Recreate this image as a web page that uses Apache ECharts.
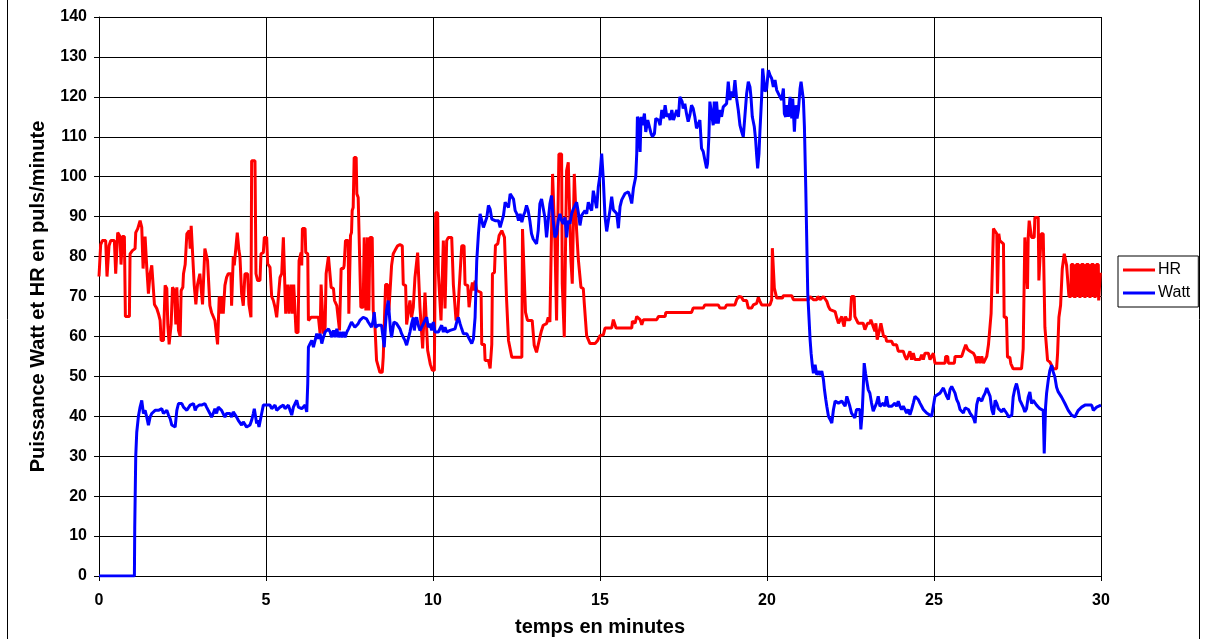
<!DOCTYPE html>
<html>
<head>
<meta charset="utf-8">
<script src="https://cdn.jsdelivr.net/npm/echarts@6/dist/echarts.min.js"></script>
<style>
  html, body { margin: 0; padding: 0; background: #fff; }
  #chart { width: 1207px; height: 639px; }
</style>
</head>
<body>
<div id="chart"></div>
<script>
// [minutes, puls/minute]
const hrData = [
  [0,75],[0.03,75.2],[0.05,83],[0.1,84],[0.2,84],[0.24,75],[0.3,82.7],[0.35,84],[0.46,84],[0.5,75.7],
  [0.56,86],[0.63,85],[0.66,78],[0.7,85],[0.76,85],[0.79,65],[0.91,65],[0.93,80.7],[1.0,81.5],[1.08,82],
  [1.1,86],[1.16,87],[1.23,89],[1.28,87.3],[1.32,77],[1.38,85],[1.43,77.3],[1.48,70.7],[1.53,75.7],[1.58,77.8],
  [1.63,78],[1.66,68],[1.73,67],[1.78,65.7],[1.83,64],[1.86,59],[1.93,59],[1.98,72.8],[2.03,72],[2.06,63],
  [2.1,58],[2.16,63],[2.2,72.3],[2.26,71.5],[2.3,63],[2.33,72.3],[2.38,61.5],[2.43,60],[2.46,71.5],[2.51,72.3],
  [2.53,75.7],[2.58,78],[2.63,85.7],[2.7,86.5],[2.73,82],[2.76,87.7],[2.81,87.7],[2.85,73],[2.9,68],[2.95,73],
  [3.02,75.7],[3.07,76],[3.1,68],[3.15,68],[3.17,82],[3.22,82],[3.25,79],[3.29,78.6],[3.32,67.7],[3.37,66],
  [3.42,65.7],[3.47,64],[3.52,63.6],[3.55,58],[3.59,57.7],[3.6,70],[3.65,65.7],[3.69,70],[3.72,65.7],[3.77,72.8],
  [3.82,74.8],[3.87,75.7],[3.95,75.7],[3.97,67.7],[4.02,80],[4.05,77.8],[4.09,81.5],[4.14,86],[4.17,86],[4.19,81.5],
  [4.22,80],[4.27,70.7],[4.32,67.7],[4.37,75.7],[4.45,75.7],[4.49,68],[4.55,64.8],[4.57,104],[4.67,104],[4.7,75.7],
  [4.75,74],[4.82,74],[4.85,80.7],[4.92,81],[4.95,84.8],[5.02,84.8],[5.05,78.2],[5.12,77.3],[5.17,70],[5.22,69],
  [5.27,67.3],[5.32,64.8],[5.37,64.8],[5.42,74.8],[5.47,75.7],[5.52,84.8],[5.55,84.8],[5.59,65.7],[5.65,73],[5.69,65.7],
  [5.75,73],[5.79,65.7],[5.83,73],[5.87,73],[5.9,61],[5.96,61],[5.99,79],[6.05,81],[6.07,77.8],[6.09,87],
  [6.17,87],[6.19,81],[6.25,80.7],[6.27,64],[6.32,64],[6.35,64.8],[6.57,64.8],[6.62,60.7],[6.65,73],[6.69,73],
  [6.72,60.7],[6.77,62.3],[6.8,75.7],[6.85,76],[6.87,80],[6.92,80],[6.95,72.3],[7.02,72],[7.05,69],[7.12,67.7],
  [7.15,67.3],[7.2,61.5],[7.22,61.5],[7.25,77],[7.32,77],[7.34,77.8],[7.38,84],[7.46,84],[7.48,65.7],[7.51,65.7],
  [7.53,85.3],[7.56,86],[7.58,91.5],[7.61,92.3],[7.64,104.8],[7.7,104.8],[7.72,95.7],[7.76,94.8],[7.81,94.8],[7.84,67.3],
  [7.91,67.3],[7.94,84.8],[7.99,66.5],[8.04,84.8],[8.08,66.5],[8.11,84.8],[8.18,84.8],[8.21,66.5],[8.26,63],[8.31,54],
  [8.36,54],[8.41,51],[8.48,51],[8.51,54.8],[8.54,54.8],[8.58,73],[8.64,73],[8.68,66.5],[8.71,66.5],[8.76,77.8],
  [8.81,80.7],[8.86,81.5],[8.94,82.7],[9.01,83],[9.08,82.7],[9.11,73],[9.18,72.8],[9.21,63],[9.26,63],[9.31,69],
  [9.34,69],[9.36,64.8],[9.41,67.3],[9.46,74.8],[9.51,75.2],[9.54,81],[9.59,81],[9.61,67.3],[9.66,67],[9.69,57],
  [9.74,57],[9.76,71],[9.81,71],[9.84,56.5],[9.89,56.5],[9.92,53],[9.98,51.5],[10.04,51.5],[10.08,91],[10.14,91],
  [10.16,76],[10.21,76],[10.24,64],[10.28,64],[10.31,84],[10.34,84],[10.36,67],[10.39,67],[10.41,84],[10.46,84.8],
  [10.56,84.8],[10.61,73],[10.66,72.8],[10.69,64],[10.74,64.8],[10.78,71.5],[10.82,71.5],[10.86,82.7],[10.93,82.7],[10.96,73],
  [11.04,72.8],[11.08,67.3],[11.14,71.5],[11.18,73.5],[11.23,71.5],[11.26,74],[11.31,71.5],[11.36,71],[11.44,71],[11.46,58],
  [11.54,58],[11.56,54],[11.66,54],[11.71,52],[11.76,58],[11.78,75.7],[11.84,76],[11.87,82.8],[11.94,83.2],[11.98,85.3],
  [12.06,86.5],[12.14,84.8],[12.18,84.8],[12.2,69.8],[12.25,69.8],[12.26,59],[12.31,58.6],[12.36,54.8],[12.66,54.8],[12.68,86.9],
  [12.73,86.9],[12.77,66],[12.83,64],[12.97,64],[13.03,57.8],[13.1,56],[13.15,56.5],[13.2,59.8],[13.25,61.5],[13.3,62.8],
  [13.4,63.2],[13.45,64.8],[13.5,63.6],[13.55,63.2],[13.58,100.7],[13.62,100.7],[13.65,84],[13.7,64],[13.73,84.8],[13.77,105.7],
  [13.85,105.7],[13.87,73.2],[13.9,73.2],[13.93,59.8],[13.97,59.8],[14.0,101.5],[14.05,103.6],[14.1,103.6],[14.13,79],[14.17,73.2],
  [14.2,73.2],[14.23,100.7],[14.27,100.7],[14.3,86.5],[14.35,79.4],[14.4,79],[14.43,72.3],[14.5,72],[14.53,68.2],[14.57,67.8],
  [14.6,60.2],[14.65,59.8],[14.7,58.2],[14.85,58.2],[14.93,59],[15.0,60.2],[15.1,60.4],[15.15,62.1],[15.35,62.1],[15.4,64.2],
  [15.45,64.2],[15.48,62.1],[15.95,62.1],[15.97,63.8],[16.05,63.3],[16.1,65],[16.15,64.6],[16.2,64.2],[16.25,62.9],[16.3,64.2],
  [16.7,64.2],[16.75,65],[16.95,65],[16.97,66],[17.74,66],[17.79,67.1],[18.09,67.1],[18.14,67.9],[18.54,67.9],[18.59,67.1],
  [18.74,67.1],[18.79,67.9],[19.04,67.9],[19.09,69.2],[19.16,70],[19.24,69.8],[19.29,69],[19.39,69],[19.44,67.1],[19.54,67.1],
  [19.59,67.9],[19.69,68.3],[19.74,69.8],[19.79,68.8],[19.84,67.9],[20.09,67.9],[20.14,69.2],[20.16,82.1],[20.2,82.1],[20.22,72.1],
  [20.26,71.7],[20.29,69.6],[20.46,69.6],[20.49,70.2],[20.74,70.2],[20.79,69.2],[21.24,69.2],[21.29,70],[21.39,69.2],[21.49,69.2],
  [21.52,70],[21.59,69.2],[21.64,69.2],[21.69,70],[21.74,70],[21.79,68.8],[21.84,67.5],[21.89,66.7],[21.94,66.2],[22.04,66.2],
  [22.09,64.6],[22.14,63.3],[22.19,62.9],[22.24,65],[22.28,63.3],[22.31,62.5],[22.35,65],[22.39,64.2],[22.49,64.2],[22.53,70],
  [22.61,70],[22.63,65],[22.68,64.6],[22.73,63.3],[22.88,63.3],[22.93,61.7],[22.98,61.7],[23.01,63.3],[23.08,63.3],[23.11,64.2],
  [23.15,63.8],[23.18,62.5],[23.23,61.3],[23.26,63.3],[23.3,59.2],[23.33,59.2],[23.36,61.3],[23.41,63.3],[23.46,63.3],[23.49,60],
  [23.55,60],[23.58,58.8],[23.73,58.8],[23.78,57.9],[23.88,57.9],[23.93,56.3],[24.08,56.3],[24.13,55],[24.18,54.2],[24.23,54.2],
  [24.28,56.3],[24.33,54.2],[24.38,55.8],[24.43,54.2],[24.58,54.2],[24.63,55.4],[24.68,54.2],[24.73,55.8],[24.83,55.8],[24.88,54.2],
  [24.98,55.8],[25.03,53.3],[25.33,53.3],[25.35,55],[25.41,55],[25.43,53.3],[25.61,53.3],[25.63,55],[25.83,55],[25.88,56.3],
  [25.95,57.9],[26.01,56.7],[26.08,56.3],[26.18,55.8],[26.23,55],[26.28,53.3],[26.33,55],[26.38,53.3],[26.43,55],[26.48,53.3],
  [26.53,53.3],[26.58,55],[26.63,57.9],[26.68,57.9],[26.71,65.8],[26.75,66.3],[26.78,87],[26.83,86.5],[26.88,85.7],[26.9,70.7],
  [26.94,85.7],[26.97,84],[27.02,83.6],[27.08,83.2],[27.1,64.8],[27.17,64.8],[27.2,54.8],[27.27,54.8],[27.3,53.2],[27.37,51.9],
  [27.62,51.9],[27.67,56.9],[27.7,56.9],[27.72,84.8],[27.77,84.8],[27.8,71.9],[27.82,84.8],[27.85,89],[27.89,89],[27.92,84.8],
  [28.0,84.8],[28.02,89.8],[28.12,89.8],[28.14,74],[28.19,74],[28.21,85.7],[28.27,85.7],[28.32,62.3],[28.37,61.9],[28.4,54],
  [28.47,53.6],[28.52,53.2],[28.57,51.9],[28.67,51.9],[28.7,55.7],[28.74,64.8],[28.79,67.8],[28.82,67.8],[28.84,76.9],[28.88,76.9],
  [28.9,80.7],[28.95,80.7],[28.97,77.8],[29.02,77.3],[29.04,70],[29.1,70],[29.11,78],[29.17,78],[29.18,70],[29.25,70],
  [29.26,78],[29.33,78],[29.34,70],[29.4,70],[29.41,78],[29.48,78],[29.49,70],[29.55,70],[29.56,78],[29.63,78],
  [29.64,70],[29.7,70],[29.71,78],[29.78,78],[29.79,70],[29.85,70],[29.86,78],[29.92,78],[29.93,69],[29.97,69],
  [29.98,76],[30,76]
];

// [minutes, watt]
const wattData = [
  [0,0],[1.06,0],[1.07,12],[1.1,30],[1.13,36],[1.18,40],[1.23,42.3],[1.28,44],[1.33,40.7],[1.38,41.5],
  [1.43,39.8],[1.48,37.8],[1.53,39.8],[1.58,40.7],[1.63,40.3],[1.68,41.5],[1.73,41.9],[1.78,41.5],[1.83,41.5],[1.88,41.9],
  [1.93,40.7],[1.98,40.7],[2.03,41.5],[2.08,40.3],[2.13,39.4],[2.18,37.8],[2.23,37.3],[2.28,37.3],[2.33,41.5],[2.38,43.2],
  [2.43,42.8],[2.48,43.2],[2.53,42.3],[2.58,42.8],[2.63,41.5],[2.68,41.9],[2.73,42.8],[2.78,42.3],[2.83,43.2],[2.88,41.5],
  [2.92,42.3],[3.0,42.8],[3.07,42.8],[3.17,43.2],[3.22,42.3],[3.27,42.8],[3.32,40.7],[3.37,39.8],[3.42,40.7],[3.47,41.9],
  [3.52,40.7],[3.57,42.3],[3.62,42.8],[3.67,41.5],[3.72,41.1],[3.77,39.8],[3.82,40.7],[3.87,41.1],[3.92,40.7],[3.97,39.8],
  [4.02,41.1],[4.07,40.7],[4.12,39.8],[4.17,39],[4.22,38.6],[4.27,37.8],[4.32,38.6],[4.37,38.2],[4.42,37.3],[4.47,37.3],
  [4.52,37.8],[4.57,39],[4.62,40.7],[4.65,41.9],[4.69,39.8],[4.72,38.2],[4.75,39],[4.79,37.3],[4.83,37.3],[4.87,40.7],
  [4.92,42.8],[4.97,42.3],[5.02,42.8],[5.07,42.3],[5.12,42.8],[5.17,41.9],[5.22,42.3],[5.27,42.8],[5.32,41.5],[5.37,41.1],
  [5.42,42.3],[5.47,41.9],[5.52,42.8],[5.57,41.9],[5.62,42.3],[5.67,42.8],[5.72,41.5],[5.77,40.3],[5.82,42.3],[5.87,43.2],
  [5.92,44],[5.97,42.3],[6.02,42.3],[6.07,41.9],[6.12,41.9],[6.17,42.8],[6.22,41.1],[6.25,48.2],[6.27,57.3],[6.32,58.2],
  [6.37,59],[6.42,57.3],[6.47,59],[6.52,60.7],[6.57,59.4],[6.62,60.7],[6.67,58.2],[6.72,59.8],[6.77,61.1],[6.82,61.5],
  [6.87,61.9],[6.92,61.1],[6.97,59.8],[7.02,61.5],[7.07,59.8],[7.12,61.9],[7.17,59.8],[7.22,61.1],[7.27,59.8],[7.32,61.1],
  [7.37,59.8],[7.42,61.1],[7.47,61.9],[7.51,62.3],[7.56,63.6],[7.61,64],[7.66,62.3],[7.71,62.8],[7.76,63.2],[7.81,64],
  [7.86,63.6],[7.91,64.8],[7.96,64.8],[8.01,64.4],[8.06,63.6],[8.11,63.2],[8.16,62.3],[8.21,64],[8.24,66.1],[8.28,62.3],
  [8.31,61.9],[8.36,62.8],[8.41,63.2],[8.46,62.8],[8.49,60.7],[8.54,57.3],[8.58,63.2],[8.61,66.5],[8.66,69],[8.69,65.7],
  [8.73,61.5],[8.76,59.8],[8.79,61.5],[8.83,63.6],[8.86,64],[8.91,63.2],[8.96,62.8],[9.01,61.9],[9.06,60.7],[9.11,59.8],
  [9.16,59],[9.21,57.8],[9.26,58.2],[9.31,61.1],[9.36,63.2],[9.41,64.8],[9.44,61.5],[9.48,64],[9.51,64.8],[9.56,62.8],
  [9.61,61.5],[9.66,62.3],[9.71,62.8],[9.76,64],[9.81,64.8],[9.86,62.3],[9.91,63.2],[9.96,61.5],[10.01,63.6],[10.06,61.1],
  [10.11,61.5],[10.16,61.1],[10.21,61.5],[10.26,62.8],[10.31,61.1],[10.36,62.3],[10.41,61.1],[10.46,61.5],[10.51,61.5],[10.56,61.9],
  [10.66,61.9],[10.71,63.6],[10.76,64.8],[10.81,63.2],[10.86,61.9],[10.91,60.7],[10.96,61.1],[11.01,60.7],[11.06,59.8],[11.11,59.4],
  [11.16,58.2],[11.21,59.4],[11.26,64.8],[11.31,79],[11.36,85.7],[11.41,90.7],[11.46,90.3],[11.51,87.3],[11.56,86.9],[11.61,89.8],
  [11.66,92.8],[11.71,91.9],[11.76,89.4],[11.81,89],[11.86,89],[11.91,89.4],[11.96,89],[12.01,87.3],[12.06,86.9],[12.11,90.3],
  [12.16,93.6],[12.21,94],[12.26,92.3],[12.31,95.7],[12.36,95.3],[12.41,94.4],[12.46,91.5],[12.51,90.7],[12.56,89],[12.61,90.7],
  [12.66,88.6],[12.71,90.3],[12.75,91.1],[12.8,92.8],[12.85,91.5],[12.9,89],[12.95,85.7],[13.0,84.4],[13.05,84],[13.1,83.2],
  [13.15,86.5],[13.2,93.2],[13.25,94.4],[13.3,94.8],[13.35,89.8],[13.4,84.8],[13.45,89],[13.5,93.2],[13.55,95.3],[13.6,89],
  [13.65,84.8],[13.7,85.7],[13.75,89],[13.8,90.7],[13.85,89],[13.9,88.2],[13.95,89.8],[14.0,84.8],[14.05,89],[14.1,88.2],
  [14.15,90.7],[14.2,91.9],[14.25,91.5],[14.3,93.6],[14.35,91.1],[14.4,87.8],[14.45,90.3],[14.5,90.7],[14.55,91.5],[14.6,90.7],
  [14.65,93.6],[14.7,92.3],[14.75,91.5],[14.8,96.5],[14.85,97],[14.9,92.1],[14.95,97.5],[15.0,100.4],[15.05,105.8],[15.1,99.2],
  [15.15,90],[15.2,86.3],[15.25,86.7],[15.3,91.7],[15.35,95],[15.4,91.7],[15.45,92.1],[15.5,90.8],[15.55,87.1],[15.6,92.5],
  [15.65,94.2],[15.7,95],[15.75,95.8],[15.85,96.2],[15.9,95],[15.95,93.3],[16.0,97.1],[16.05,97.5],[16.07,100],[16.1,105.8],
  [16.12,115],[16.15,114.2],[16.2,106.2],[16.23,115],[16.27,112.9],[16.33,115.8],[16.37,111.2],[16.43,114.2],[16.47,113.8],[16.53,110.8],
  [16.57,110],[16.63,110.8],[16.67,114.6],[16.75,114.2],[16.8,112.9],[16.85,116.7],[16.9,114.6],[16.95,117.9],[17.0,115],[17.05,115.8],
  [17.1,114.2],[17.15,116.7],[17.2,114.2],[17.25,113.8],[17.3,116.7],[17.35,115],[17.39,120],[17.46,118.8],[17.49,117.1],[17.54,118.3],
  [17.59,115.8],[17.64,113.8],[17.69,115.4],[17.74,117.9],[17.79,117.1],[17.84,115],[17.89,112.1],[17.94,112.1],[17.99,114.2],[18.04,107.1],
  [18.09,106.3],[18.14,104.2],[18.19,102.1],[18.22,103.3],[18.26,110],[18.29,118.8],[18.34,115.8],[18.39,112.9],[18.42,118.8],[18.46,113.3],
  [18.49,118.8],[18.54,113.3],[18.59,116.7],[18.64,115],[18.69,117.5],[18.74,117.1],[18.79,118.3],[18.84,123.8],[18.89,119.2],[18.94,121.3],
  [18.99,120],[19.04,124.2],[19.09,119.6],[19.14,116.7],[19.19,112.9],[19.24,111.3],[19.29,110],[19.34,110.4],[19.39,120.8],[19.44,123.8],
  [19.49,122.5],[19.52,120],[19.56,115],[19.62,112.5],[19.66,109.2],[19.69,105.4],[19.72,102.1],[19.76,105.8],[19.79,111.7],[19.84,120],
  [19.87,127.1],[19.92,127.1],[19.94,121.3],[19.99,122.1],[20.04,126.7],[20.09,125.4],[20.14,124.6],[20.19,122.5],[20.24,124.2],[20.29,121.7],
  [20.34,122.1],[20.39,120],[20.44,119.2],[20.49,122.1],[20.52,115.8],[20.56,115],[20.6,117.9],[20.64,115],[20.69,120],[20.74,114.6],
  [20.77,119.6],[20.82,111.3],[20.86,117.9],[20.9,114.6],[20.94,116.7],[20.99,122.1],[21.02,123.8],[21.06,123.8],[21.09,119.2],[21.12,112.5],
  [21.16,97.5],[21.19,84.2],[21.22,70.8],[21.26,64.2],[21.29,59.2],[21.32,55.8],[21.36,52.5],[21.39,50.8],[21.44,52.9],[21.49,50.4],
  [21.54,51.3],[21.59,50.4],[21.64,51.3],[21.69,49.2],[21.72,46.7],[21.76,44.2],[21.79,42.5],[21.84,40],[21.89,39.2],[21.94,38.3],
  [21.99,41.7],[22.04,43.8],[22.09,43.8],[22.14,43.3],[22.24,43.8],[22.29,43.8],[22.34,42.5],[22.39,45],[22.43,44.6],[22.48,42.5],
  [22.53,40.8],[22.58,40.4],[22.63,39.6],[22.68,41.7],[22.73,42.1],[22.78,41.7],[22.81,36.7],[22.85,40.8],[22.88,46.7],[22.91,53.3],
  [22.95,50.8],[22.98,49.2],[23.03,46.7],[23.08,45.8],[23.13,43.3],[23.18,41.3],[23.23,41.3],[23.28,43.3],[23.33,45],[23.38,42.5],
  [23.43,42.5],[23.48,43.3],[23.53,42.5],[23.58,45],[23.63,42.5],[23.68,42.1],[23.73,42.5],[23.78,42.1],[23.83,43.3],[23.88,42.5],
  [23.93,43.8],[23.98,42.5],[24.03,41.7],[24.08,42.5],[24.13,41.7],[24.18,40.8],[24.23,41.7],[24.28,40.4],[24.33,41.7],[24.38,43.3],
  [24.43,45],[24.48,45],[24.53,44.2],[24.58,43.3],[24.63,42.5],[24.68,41.7],[24.73,41.3],[24.78,40.8],[24.83,40.4],[24.93,40],
  [24.98,40],[25.03,45],[25.08,45.4],[25.18,45.8],[25.23,45.8],[25.28,47.1],[25.33,46.7],[25.38,45],[25.43,44.2],[25.48,46.7],
  [25.53,47.5],[25.58,47.9],[25.63,45.8],[25.68,44.2],[25.73,43.3],[25.78,41.7],[25.83,42.1],[25.88,40.8],[25.93,42.1],[25.98,41.7],
  [26.03,41.7],[26.08,40.8],[26.13,40.4],[26.18,39.6],[26.23,38.3],[26.28,42.9],[26.33,44.6],[26.38,45],[26.43,43.8],[26.48,45],
  [26.53,45.8],[26.58,47.1],[26.63,46.7],[26.68,45],[26.73,41.7],[26.78,40.4],[26.83,44],[26.88,43.2],[26.93,41.9],[26.98,42.3],
  [27.03,41.1],[27.08,41.9],[27.13,41.5],[27.18,40.7],[27.23,39.8],[27.28,39.8],[27.33,40.3],[27.37,44.8],[27.42,46.9],[27.47,48.2],
  [27.52,46.5],[27.57,44],[27.62,43.2],[27.67,42.3],[27.72,41.1],[27.77,41.9],[27.82,44.8],[27.87,46.1],[27.92,43.2],[27.97,44],
  [28.02,43.6],[28.07,42.8],[28.12,43.2],[28.17,41.9],[28.22,42.3],[28.27,41.5],[28.3,30.7],[28.34,42.3],[28.37,45.7],[28.42,49],
  [28.47,51.5],[28.52,52.8],[28.57,51.1],[28.62,49.8],[28.67,47.3],[28.72,46.1],[28.77,45.7],[28.82,44.8],[28.87,44.4],[28.92,43.2],
  [28.97,42.8],[29.02,41.5],[29.07,41.1],[29.12,40.3],[29.17,39.8],[29.22,39.8],[29.27,40.7],[29.32,41.5],[29.37,41.9],[29.42,42.3],
  [29.47,42.8],[29.52,42.8],[29.62,42.8],[29.67,43.2],[29.72,42.8],[29.77,41.5],[29.82,41.1],[29.87,42.3],[29.92,41.9],[30,42.8]
];

const FONT = "'Liberation Sans', Arial, sans-serif";

const chart = echarts.init(document.getElementById('chart'));
const option = {
  animation: false,
  backgroundColor: '#fff',
  textStyle: { fontFamily: FONT },
  grid: { left: 99, right: 106, top: 17, bottom: 63, outerBoundsMode: 'none' },
  legend: {
    orient: 'vertical',
    left: 1118,
    top: 256,
    data: ['HR', 'Watt'],
    icon: 'rect',
    itemWidth: 32,
    itemHeight: 3,
    itemGap: 7,
    padding: [6, 8, 6, 5],
    borderColor: '#000',
    borderWidth: 1,
    textStyle: { fontFamily: FONT, fontSize: 16, color: '#000', padding: [0, 0, 0, -2] }
  },
  xAxis: {
    type: 'value',
    min: 0,
    max: 30,
    interval: 5,
    name: 'temps en minutes',
    nameLocation: 'middle',
    nameGap: 41,
    nameTextStyle: { fontFamily: FONT, fontSize: 20, fontWeight: 'bold', color: '#000' },
    axisLine: { lineStyle: { color: '#000', width: 1 } },
    axisTick: { show: true, length: 5, lineStyle: { color: '#000' } },
    axisLabel: { fontFamily: FONT, fontSize: 16, fontWeight: 'bold', color: '#000', margin: 17 },
    splitLine: { show: true, lineStyle: { color: '#000', width: 1 } }
  },
  yAxis: {
    type: 'value',
    min: 0,
    max: 140,
    interval: 10,
    name: 'Puissance Watt et HR en puls/minute',
    nameLocation: 'middle',
    nameGap: 51,
    nameRotate: 90,
    nameTextStyle: { fontFamily: FONT, fontSize: 20, fontWeight: 'bold', color: '#000' },
    axisLine: { show: true, lineStyle: { color: '#000', width: 1 } },
    axisTick: { show: true, length: 5, lineStyle: { color: '#000' } },
    axisLabel: { fontFamily: FONT, fontSize: 16, fontWeight: 'bold', color: '#000', margin: 12 },
    splitLine: { show: true, lineStyle: { color: '#000', width: 1 } }
  },
  graphic: [{
    type: 'rect',
    shape: { x: 7.5, y: -2, width: 1192, height: 643 },
    style: { fill: 'none', stroke: '#000', lineWidth: 1 },
    silent: true
  }],
  series: [
    {
      name: 'HR',
      type: 'line',
      data: hrData,
      symbol: 'none',
      color: '#ff0000',
      lineStyle: { color: '#ff0000', width: 3 }
    },
    {
      name: 'Watt',
      type: 'line',
      data: wattData,
      symbol: 'none',
      color: '#0000ff',
      lineStyle: { color: '#0000ff', width: 3 }
    }
  ]
};
chart.setOption(option);
</script>
</body>
</html>
